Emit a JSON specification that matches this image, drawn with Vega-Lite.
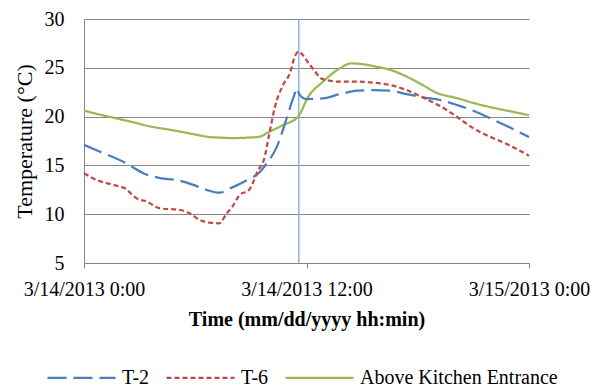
{
  "$schema": "https://vega.github.io/schema/vega-lite/v6.json",
  "width": 445,
  "height": 244,
  "autosize": "none",
  "padding": {"left": 84, "top": 19, "right": 73, "bottom": 122},
  "background": "white",
  "config": {
    "view": {"stroke": null},
    "font": "Liberation Serif",
    "axis": {"labelFont": "Liberation Serif", "titleFont": "Liberation Serif", "labelColor": "#000000", "titleColor": "#000000"},
    "legend": {"labelFont": "Liberation Serif", "labelColor": "#000000", "padding": 0}
  },
  "datasets": {
    "series": [
      {"time": "2013-03-14T00:00", "sensor": "Above Kitchen Entrance", "temp": 20.6},
      {"time": "2013-03-14T00:52", "sensor": "Above Kitchen Entrance", "temp": 20.2},
      {"time": "2013-03-14T02:29", "sensor": "Above Kitchen Entrance", "temp": 19.5},
      {"time": "2013-03-14T03:34", "sensor": "Above Kitchen Entrance", "temp": 19.0},
      {"time": "2013-03-14T04:48", "sensor": "Above Kitchen Entrance", "temp": 18.6},
      {"time": "2013-03-14T05:54", "sensor": "Above Kitchen Entrance", "temp": 18.2},
      {"time": "2013-03-14T06:48", "sensor": "Above Kitchen Entrance", "temp": 17.9},
      {"time": "2013-03-14T07:18", "sensor": "Above Kitchen Entrance", "temp": 17.85},
      {"time": "2013-03-14T08:00", "sensor": "Above Kitchen Entrance", "temp": 17.8},
      {"time": "2013-03-14T08:54", "sensor": "Above Kitchen Entrance", "temp": 17.85},
      {"time": "2013-03-14T09:30", "sensor": "Above Kitchen Entrance", "temp": 17.95},
      {"time": "2013-03-14T09:51", "sensor": "Above Kitchen Entrance", "temp": 18.3},
      {"time": "2013-03-14T10:42", "sensor": "Above Kitchen Entrance", "temp": 19.1},
      {"time": "2013-03-14T11:33", "sensor": "Above Kitchen Entrance", "temp": 20.0},
      {"time": "2013-03-14T12:05", "sensor": "Above Kitchen Entrance", "temp": 22.0},
      {"time": "2013-03-14T12:54", "sensor": "Above Kitchen Entrance", "temp": 23.6},
      {"time": "2013-03-14T13:48", "sensor": "Above Kitchen Entrance", "temp": 24.95},
      {"time": "2013-03-14T14:24", "sensor": "Above Kitchen Entrance", "temp": 25.45},
      {"time": "2013-03-14T14:54", "sensor": "Above Kitchen Entrance", "temp": 25.4},
      {"time": "2013-03-14T15:48", "sensor": "Above Kitchen Entrance", "temp": 25.1},
      {"time": "2013-03-14T16:30", "sensor": "Above Kitchen Entrance", "temp": 24.8},
      {"time": "2013-03-14T17:24", "sensor": "Above Kitchen Entrance", "temp": 24.1},
      {"time": "2013-03-14T18:18", "sensor": "Above Kitchen Entrance", "temp": 23.2},
      {"time": "2013-03-14T19:00", "sensor": "Above Kitchen Entrance", "temp": 22.45},
      {"time": "2013-03-14T20:06", "sensor": "Above Kitchen Entrance", "temp": 21.9},
      {"time": "2013-03-14T21:00", "sensor": "Above Kitchen Entrance", "temp": 21.4},
      {"time": "2013-03-14T22:12", "sensor": "Above Kitchen Entrance", "temp": 20.85},
      {"time": "2013-03-14T23:06", "sensor": "Above Kitchen Entrance", "temp": 20.5},
      {"time": "2013-03-15T00:00", "sensor": "Above Kitchen Entrance", "temp": 20.15},

      {"time": "2013-03-14T00:00", "sensor": "T-2", "temp": 17.1},
      {"time": "2013-03-14T00:52", "sensor": "T-2", "temp": 16.4},
      {"time": "2013-03-14T02:18", "sensor": "T-2", "temp": 15.2},
      {"time": "2013-03-14T03:12", "sensor": "T-2", "temp": 14.2},
      {"time": "2013-03-14T04:06", "sensor": "T-2", "temp": 13.7},
      {"time": "2013-03-14T05:00", "sensor": "T-2", "temp": 13.5},
      {"time": "2013-03-14T05:54", "sensor": "T-2", "temp": 13.0},
      {"time": "2013-03-14T06:36", "sensor": "T-2", "temp": 12.5},
      {"time": "2013-03-14T07:18", "sensor": "T-2", "temp": 12.2},
      {"time": "2013-03-14T08:00", "sensor": "T-2", "temp": 12.75},
      {"time": "2013-03-14T08:48", "sensor": "T-2", "temp": 13.5},
      {"time": "2013-03-14T09:30", "sensor": "T-2", "temp": 14.35},
      {"time": "2013-03-14T09:51", "sensor": "T-2", "temp": 15.2},
      {"time": "2013-03-14T10:24", "sensor": "T-2", "temp": 16.9},
      {"time": "2013-03-14T10:54", "sensor": "T-2", "temp": 19.65},
      {"time": "2013-03-14T11:18", "sensor": "T-2", "temp": 22.0},
      {"time": "2013-03-14T11:30", "sensor": "T-2", "temp": 22.9},
      {"time": "2013-03-14T11:36", "sensor": "T-2", "temp": 22.3},
      {"time": "2013-03-14T12:00", "sensor": "T-2", "temp": 21.8},
      {"time": "2013-03-14T12:54", "sensor": "T-2", "temp": 21.87},
      {"time": "2013-03-14T13:48", "sensor": "T-2", "temp": 22.3},
      {"time": "2013-03-14T14:42", "sensor": "T-2", "temp": 22.65},
      {"time": "2013-03-14T15:36", "sensor": "T-2", "temp": 22.72},
      {"time": "2013-03-14T16:30", "sensor": "T-2", "temp": 22.65},
      {"time": "2013-03-14T17:24", "sensor": "T-2", "temp": 22.3},
      {"time": "2013-03-14T18:18", "sensor": "T-2", "temp": 21.97},
      {"time": "2013-03-14T19:12", "sensor": "T-2", "temp": 21.7},
      {"time": "2013-03-14T20:06", "sensor": "T-2", "temp": 21.2},
      {"time": "2013-03-14T21:00", "sensor": "T-2", "temp": 20.6},
      {"time": "2013-03-14T21:54", "sensor": "T-2", "temp": 19.83},
      {"time": "2013-03-14T22:48", "sensor": "T-2", "temp": 19.04},
      {"time": "2013-03-15T00:00", "sensor": "T-2", "temp": 17.9},

      {"time": "2013-03-14T00:00", "sensor": "T-6", "temp": 14.2},
      {"time": "2013-03-14T00:41", "sensor": "T-6", "temp": 13.5},
      {"time": "2013-03-14T01:36", "sensor": "T-6", "temp": 13.0},
      {"time": "2013-03-14T02:12", "sensor": "T-6", "temp": 12.65},
      {"time": "2013-03-14T02:50", "sensor": "T-6", "temp": 11.63},
      {"time": "2013-03-14T03:24", "sensor": "T-6", "temp": 11.28},
      {"time": "2013-03-14T04:06", "sensor": "T-6", "temp": 10.6},
      {"time": "2013-03-14T05:12", "sensor": "T-6", "temp": 10.43},
      {"time": "2013-03-14T05:42", "sensor": "T-6", "temp": 10.09},
      {"time": "2013-03-14T06:15", "sensor": "T-6", "temp": 9.4},
      {"time": "2013-03-14T06:48", "sensor": "T-6", "temp": 9.13},
      {"time": "2013-03-14T07:18", "sensor": "T-6", "temp": 9.07},
      {"time": "2013-03-14T07:42", "sensor": "T-6", "temp": 10.09},
      {"time": "2013-03-14T08:00", "sensor": "T-6", "temp": 10.77},
      {"time": "2013-03-14T08:24", "sensor": "T-6", "temp": 11.97},
      {"time": "2013-03-14T08:54", "sensor": "T-6", "temp": 12.48},
      {"time": "2013-03-14T09:24", "sensor": "T-6", "temp": 14.53},
      {"time": "2013-03-14T09:42", "sensor": "T-6", "temp": 15.55},
      {"time": "2013-03-14T10:00", "sensor": "T-6", "temp": 18.29},
      {"time": "2013-03-14T10:18", "sensor": "T-6", "temp": 21.0},
      {"time": "2013-03-14T10:44", "sensor": "T-6", "temp": 23.24},
      {"time": "2013-03-14T11:06", "sensor": "T-6", "temp": 24.43},
      {"time": "2013-03-14T11:22", "sensor": "T-6", "temp": 26.14},
      {"time": "2013-03-14T11:33", "sensor": "T-6", "temp": 26.65},
      {"time": "2013-03-14T12:11", "sensor": "T-6", "temp": 25.29},
      {"time": "2013-03-14T12:54", "sensor": "T-6", "temp": 23.82},
      {"time": "2013-03-14T13:48", "sensor": "T-6", "temp": 23.58},
      {"time": "2013-03-14T14:42", "sensor": "T-6", "temp": 23.58},
      {"time": "2013-03-14T15:36", "sensor": "T-6", "temp": 23.48},
      {"time": "2013-03-14T16:30", "sensor": "T-6", "temp": 23.24},
      {"time": "2013-03-14T17:24", "sensor": "T-6", "temp": 22.72},
      {"time": "2013-03-14T18:18", "sensor": "T-6", "temp": 21.94},
      {"time": "2013-03-14T19:12", "sensor": "T-6", "temp": 21.09},
      {"time": "2013-03-14T20:06", "sensor": "T-6", "temp": 19.99},
      {"time": "2013-03-14T21:00", "sensor": "T-6", "temp": 18.8},
      {"time": "2013-03-14T21:54", "sensor": "T-6", "temp": 17.94},
      {"time": "2013-03-14T22:48", "sensor": "T-6", "temp": 17.19},
      {"time": "2013-03-15T00:00", "sensor": "T-6", "temp": 16.0}
    ],
    "marker": [
      {"time": "2013-03-14T11:35"}
    ]
  },
  "layer": [
    {
      "data": {"name": "marker"},
      "mark": {"type": "rule", "color": "#8DB3E2", "strokeWidth": 1.5},
      "encoding": {
        "x": {"field": "time", "type": "temporal"}
      }
    },
    {
      "data": {"name": "series"},
      "mark": {"type": "line", "strokeWidth": 2.25, "interpolate": "monotone"},
      "encoding": {
        "x": {
          "field": "time",
          "type": "temporal",
          "scale": {"domain": ["2013-03-14T00:00", "2013-03-15T00:00"]},
          "axis": {
            "title": "Time (mm/dd/yyyy hh:min)",
            "titleFontSize": 20,
            "titleFontWeight": "bold",
            "titlePadding": 10,
            "values": [
              {"year": 2013, "month": 3, "date": 14, "hours": 0},
              {"year": 2013, "month": 3, "date": 14, "hours": 12},
              {"year": 2013, "month": 3, "date": 15, "hours": 0}
            ],
            "format": "%-m/%-d/%Y %-H:%M",
            "labelFontSize": 20,
            "labelPadding": 11,
            "labelOverlap": false,
            "labelFlush": false,
            "grid": false,
            "tickSize": 5,
            "tickColor": "#868686",
            "domainColor": "#868686"
          }
        },
        "y": {
          "field": "temp",
          "type": "quantitative",
          "scale": {"domain": [5, 30], "nice": false},
          "axis": {
            "title": "Temperature (°C)",
            "titleFontSize": 22,
            "titleFontWeight": "normal",
            "titlePadding": 8,
            "values": [5, 10, 15, 20, 25, 30],
            "labelFontSize": 20,
            "labelPadding": 20,
            "ticks": false,
            "grid": true,
            "gridColor": "#868686",
            "gridWidth": 1,
            "domainColor": "#868686"
          }
        },
        "color": {
          "field": "sensor",
          "type": "nominal",
          "scale": {"domain": ["T-2", "T-6", "Above Kitchen Entrance"], "range": ["#4A7EBB", "#BE4B48", "#98B954"]},
          "legend": {
            "title": null,
            "orient": "none",
            "legendX": -38,
            "legendY": 323,
            "direction": "horizontal",
            "symbolType": "stroke",
            "symbolSize": 4624,
            "symbolStrokeWidth": 2.25,
            "labelFontSize": 20,
            "labelOffset": 5,
            "labelLimit": 400,
            "columnPadding": 12
          }
        },
        "strokeDash": {
          "field": "sensor",
          "type": "nominal",
          "scale": {"domain": ["T-2", "T-6", "Above Kitchen Entrance"], "range": [[19, 7], [5, 3], [1, 0]]},
          "legend": {
            "title": null,
            "orient": "none",
            "legendX": -38,
            "legendY": 323,
            "direction": "horizontal",
            "symbolType": "stroke",
            "symbolSize": 4624,
            "symbolStrokeWidth": 2.25,
            "labelFontSize": 20,
            "labelOffset": 5,
            "labelLimit": 400,
            "columnPadding": 12
          }
        }
      }
    }
  ]
}
